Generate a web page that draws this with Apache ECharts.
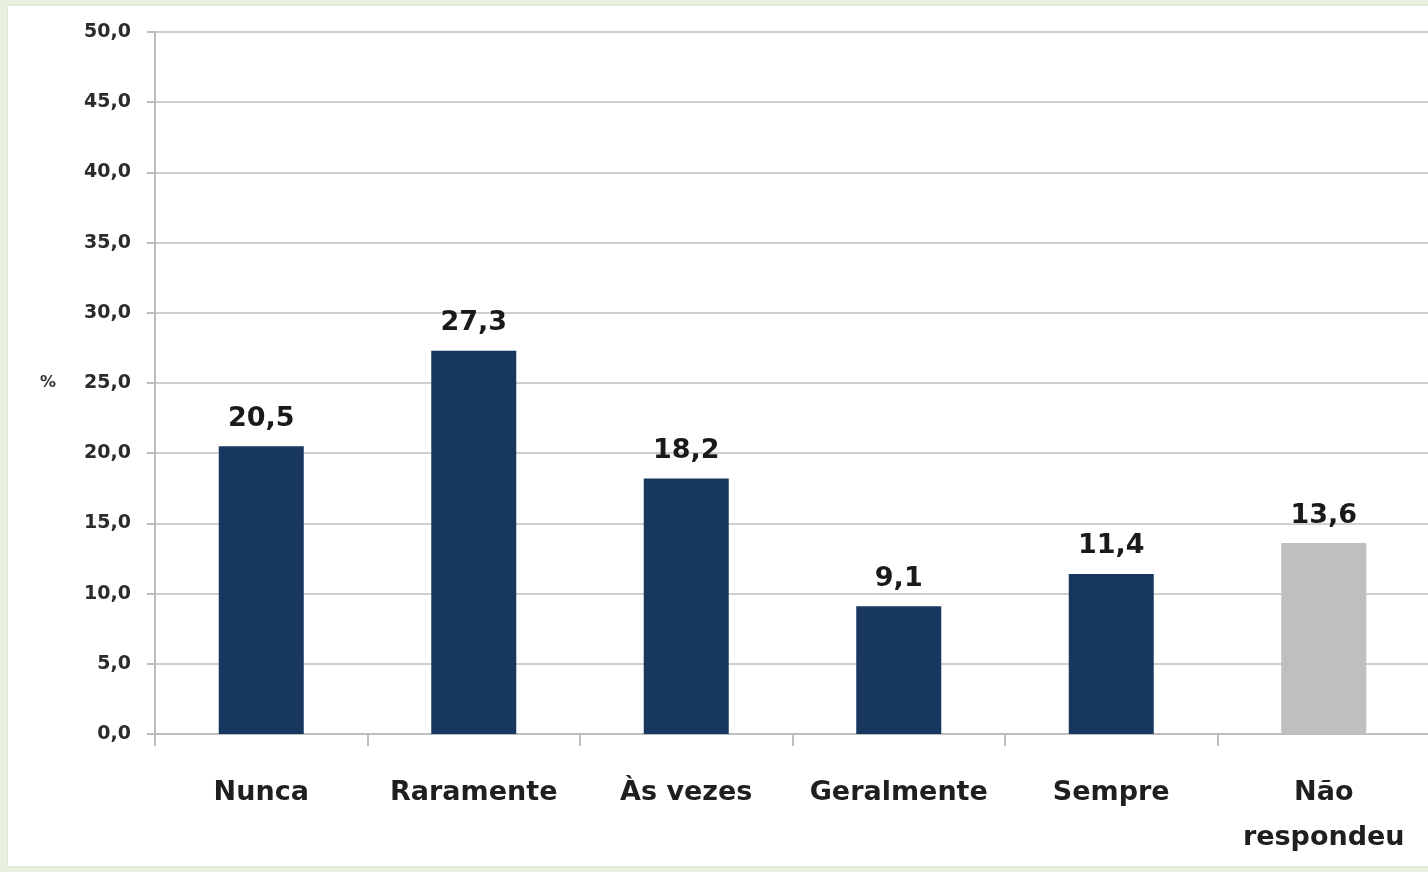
<!DOCTYPE html>
<html>
<head>
<meta charset="utf-8">
<script src="https://cdn.jsdelivr.net/npm/echarts@6/dist/echarts.min.js"></script>
<style>
  html, body { margin: 0; padding: 0; width: 1428px; height: 872px; overflow: hidden; background: #EAF0DE; }
  #panel { position: absolute; left: 8px; top: 6px; width: 1422px; height: 860px; background: #ffffff; box-shadow: 0 0 2px #c9cfc0; }
  #chart { width: 1422px; height: 860px; }
</style>
</head>
<body>
<div id="panel"><div id="chart"></div></div>
<script>
const categories = ['Nunca', 'Raramente', 'Às vezes', 'Geralmente', 'Sempre', 'Não\nrespondeu'];
const values = [20.5, 27.3, 18.2, 9.1, 11.4, 13.6];
const barColors = ['#17375E', '#17375E', '#17375E', '#17375E', '#17375E', '#BFBFBF'];
const yMin = 0, yMax = 50, yStep = 5;
const yAxisName = '%';

const fmt = v => Number(v).toFixed(1).replace('.', ',');
const FONT = '"DejaVu Sans", sans-serif';

const chart = echarts.init(document.getElementById('chart'), null, { renderer: 'canvas' });
chart.setOption({
  animation: false,
  backgroundColor: '#ffffff',
  grid: { left: 147, top: 26, right: 0, bottom: 132, containLabel: false },
  graphic: [{
    type: 'text', left: 32, top: 369,
    style: { text: yAxisName, fontSize: 16, fontWeight: 'bold', fontFamily: FONT, fill: '#333333' }
  }],
  xAxis: {
    type: 'category',
    data: categories,
    boundaryGap: true,
    axisLine: { show: true, lineStyle: { color: '#BDBDBD', width: 2 } },
    axisTick: { show: true, length: 12, alignWithLabel: false, interval: 0, lineStyle: { color: '#BDBDBD', width: 2 } },
    axisLabel: { interval: 0, margin: 36, color: '#1f1f1f', fontFamily: FONT, fontWeight: 'bold', fontSize: 27, lineHeight: 45 },
    splitLine: { show: false }
  },
  yAxis: {
    type: 'value',
    min: yMin, max: yMax, interval: yStep,
    axisLine: { show: true, lineStyle: { color: '#BDBDBD', width: 2 } },
    axisTick: { show: true, length: 8, inside: false, lineStyle: { color: '#BDBDBD', width: 2 } },
    axisLabel: { margin: 24, color: '#2b2b2b', fontFamily: FONT, fontWeight: 'bold', fontSize: 19, formatter: fmt },
    splitLine: { show: true, lineStyle: { color: '#CFCFCF', width: 2 } }
  },
  series: [{
    type: 'bar',
    data: values.map((v, i) => ({ value: v, itemStyle: { color: barColors[i] } })),
    barWidth: '40%',
    label: {
      show: true, position: 'top', distance: 14,
      color: '#1a1a1a', fontFamily: FONT, fontWeight: 'bold', fontSize: 27,
      formatter: p => fmt(p.value)
    }
  }]
});
</script>
</body>
</html>
